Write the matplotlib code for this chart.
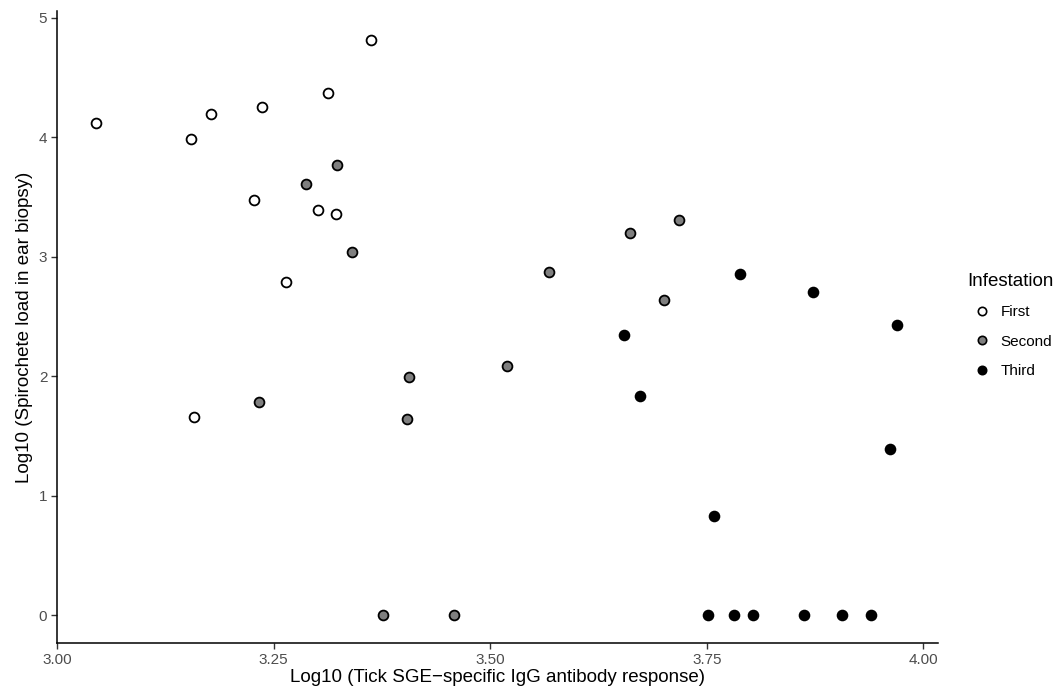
import matplotlib
matplotlib.use("Agg")
import matplotlib.pyplot as plt
from matplotlib.lines import Line2D

plt.rcParams['font.family'] = ['Liberation Sans', 'DejaVu Sans']

first_x = [3.045, 3.155, 3.178, 3.237, 3.313, 3.362, 3.227, 3.301, 3.322, 3.264, 3.158]
first_y = [4.12, 3.98, 4.19, 4.25, 4.37, 4.81, 3.47, 3.39, 3.36, 2.79, 1.66]

second_x = [3.323, 3.287, 3.340, 3.233, 3.406, 3.404, 3.376, 3.458, 3.520, 3.568, 3.662, 3.718, 3.701]
second_y = [3.77, 3.61, 3.04, 1.78, 1.99, 1.64, 0.0, 0.0, 2.08, 2.87, 3.20, 3.31, 2.64]

third_x = [3.654, 3.789, 3.873, 3.673, 3.970, 3.962, 3.758, 3.751, 3.781, 3.803, 3.862, 3.906, 3.940]
third_y = [2.34, 2.85, 2.70, 1.83, 2.43, 1.39, 0.83, 0.0, 0.0, 0.0, 0.0, 0.0, 0.0]

groups = ["First", "Second", "Third"]
fills = ["#ffffff", "#7f7f7f", "#000000"]
xticks = [3.00, 3.25, 3.50, 3.75, 4.00]
xticklabels = ["3.00", "3.25", "3.50", "3.75", "4.00"]
yticks = [0, 1, 2, 3, 4, 5]

fig = plt.figure(figsize=(10.57, 6.93), dpi=100)
ax = fig.add_axes([57/1057, 1-643/693, (938-57)/1057, (643-11)/693])

data = [(first_x, first_y), (second_x, second_y), (third_x, third_y)]
for (xs, ys), g, c in zip(data, groups, fills):
    ax.scatter(xs, ys, s=50, facecolor=c, edgecolor="black", linewidth=1.3, label=g, zorder=3)

ax.set_xlim(3.0, 4.017)
ax.set_ylim(-0.234, 5.055)
ax.set_xticks(xticks)
ax.set_xticklabels(xticklabels)
ax.set_yticks(yticks)
for s in ["top", "right"]:
    ax.spines[s].set_visible(False)
for s in ["left", "bottom"]:
    ax.spines[s].set_linewidth(1.1)
    ax.spines[s].set_color("black")
ax.tick_params(axis="both", direction="out", length=4, width=1, color="#333333",
               labelcolor="#4d4d4d", labelsize=11, pad=3)
ax.set_xlabel("Log10 (Tick SGE\u2212specific IgG antibody response)", fontsize=13.5, labelpad=2)
ax.set_ylabel("Log10 (Spirochete load in ear biopsy)", fontsize=13.5, labelpad=4)

handles = [Line2D([], [], marker="o", linestyle="none", markersize=6, markerfacecolor=c,
                  markeredgecolor="black", markeredgewidth=1.2) for c in fills]
leg = fig.legend(handles, groups, title="Infestation", loc="upper left",
                 bbox_to_anchor=(961/1057, 1-267/693), frameon=False, fontsize=11,
                 title_fontsize=13.5, handletextpad=0.2, labelspacing=1.0, handlelength=2.0,
                 borderaxespad=0, borderpad=0.4)
leg._legend_box.align = "left"

fig.savefig("out.png", dpi=100)
